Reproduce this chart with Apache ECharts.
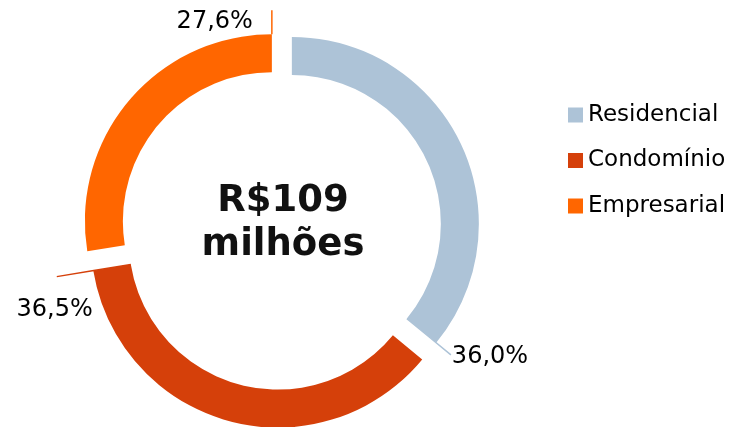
<!DOCTYPE html>
<html>
<head>
<meta charset="utf-8">
<script src="https://cdn.jsdelivr.net/npm/echarts@6/dist/echarts.min.js"></script>
<style>
  html, body { margin: 0; padding: 0; background: #fff; }
  #chart { width: 732px; height: 427px; }
</style>
</head>
<body>
<div id="chart"></div>
<script>
// --- data ---
const categories = ['Residencial', 'Condomínio', 'Empresarial'];
const shares = [36.0, 36.5, 27.6];
const centerLines = ['R$109', 'milhões'];
const colors = ['#ADC3D7', '#D5400A', '#FF6600'];

// --- layout ---
const CX = 281, CY = 229, R_IN = 149, R_OUT = 187, EXPLODE = 12;
// leader line along each slice's end edge: radii, then label offset from line end
const leaders = [
  { r0: 149, r1: 206, dx: 1, dy: 2, align: 'left' },
  { r0: 149, r1: 224, dx: 36, dy: 33, align: 'right' },
  { r0: 187, r1: 211, dx: -19, dy: 12, align: 'right' }
];

const total = shares.reduce((a, b) => a + b, 0);
const geom = [];
let acc = 90;
shares.forEach(v => {
  const span = v / total * 360;
  geom.push({ end: acc - span, mid: acc - span / 2 });
  acc -= span;
});

const rad = d => d * Math.PI / 180;
// each slice is pushed out along its mid angle (exploded donut)
const sliceCenter = i => [
  CX + EXPLODE * Math.cos(rad(geom[i].mid)),
  CY - EXPLODE * Math.sin(rad(geom[i].mid))
];
function edgePoint(i, r) {
  const c = sliceCenter(i);
  return [c[0] + r * Math.cos(rad(geom[i].end)), c[1] - r * Math.sin(rad(geom[i].end))];
}

// one pie per slice, only that slice visible, so each can sit on its own centre
const series = categories.map((cat, i) => ({
  type: 'pie',
  center: sliceCenter(i),
  radius: [R_IN, R_OUT],
  startAngle: 90,
  clockwise: true,
  silent: true,
  avoidLabelOverlap: false,
  label: {
    show: true,
    position: 'outside',
    formatter: p => p.value.toFixed(1).replace('.', ',') + '%',
    fontFamily: 'DejaVu Sans',
    fontSize: 24,
    color: '#000'
  },
  labelLine: { show: true, lineStyle: { width: 1.5 } },
  labelLayout: p => {
    const l = leaders[p.dataIndex];
    const a = edgePoint(p.dataIndex, l.r0);
    const b = edgePoint(p.dataIndex, l.r1);
    return {
      x: b[0] + l.dx,
      y: b[1] + l.dy,
      align: l.align,
      verticalAlign: 'middle',
      labelLinePoints: [a, [(a[0] + b[0]) / 2, (a[1] + b[1]) / 2], b]
    };
  },
  data: categories.map((c, j) => j === i
    ? { name: c, value: shares[j], itemStyle: { color: colors[j] } }
    : {
        name: 'hidden-' + j,
        value: shares[j],
        itemStyle: { color: 'rgba(0,0,0,0)' },
        label: { show: false },
        labelLine: { show: false }
      })
}));

const chart = echarts.init(document.getElementById('chart'));

chart.setOption({
  animation: false,
  legend: {
    orient: 'vertical',
    left: 568,
    top: 100,
    padding: 0,
    icon: 'rect',
    itemWidth: 15,
    itemHeight: 15,
    itemGap: 15.5,
    selectedMode: false,
    textStyle: { fontFamily: 'DejaVu Sans', fontSize: 23, color: '#000', lineHeight: 30 },
    data: categories.map((c, i) => ({ name: c, itemStyle: { color: colors[i] } }))
  },
  graphic: [{
    type: 'text',
    x: 283,
    y: 223,
    z: 100,
    style: {
      text: centerLines.join('\n'),
      align: 'center',
      verticalAlign: 'middle',
      font: 'bold 37px "DejaVu Sans"',
      lineHeight: 44,
      fill: '#111'
    }
  }],
  series: series
});
</script>
</body>
</html>
